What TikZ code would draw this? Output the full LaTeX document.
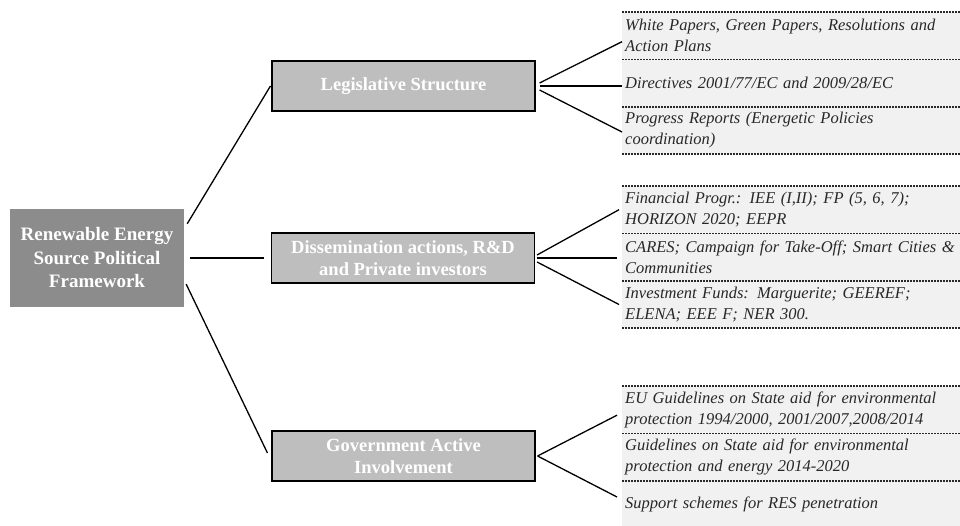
\documentclass[tikz,border=0pt]{standalone}
\usepackage{fontspec}
\setmainfont{Liberation Serif}
\definecolor{rootgray}{RGB}{140, 140, 140}
\definecolor{boxgray}{RGB}{190, 190, 190}
\definecolor{cellgray}{RGB}{241, 241, 241}
\definecolor{textgray}{RGB}{40, 40, 40}
\usetikzlibrary{positioning}
\tikzset{
	rootbox/.style={rectangle, fill=rootgray, align=center, minimum width=174pt, minimum height=98pt, text=white, font=\fontsize{19}{23.5}\selectfont\bfseries},
	branch/.style={rectangle, draw=black, fill=boxgray, line width=1.1pt, align=center, minimum width=263pt, minimum height=50pt, text=white, font=\fontsize{18.5}{22}\selectfont\bfseries},
	cell/.style={rectangle, fill=cellgray, align=left, text width=332pt, minimum height=47pt, inner xsep=3pt, inner ysep=0pt, text=textgray, font=\fontsize{16.5}{21}\selectfont\itshape},
	link/.style={line width=1.3pt, draw=black},
	sep/.style={line width=1.5pt, draw=textgray, dash pattern=on 1.5pt off 1.5pt},
}
\begin{document}
\begin{tikzpicture}[x=1pt, y=-1pt]
		\useasboundingbox (0,0) rectangle (960,526);
		\node[rootbox] (res) at (97,258) {Renewable Energy\\Source Political\\Framework};
		\node[branch] (leg) at (403.5,86) {Legislative Structure};
		\node[branch] (dis) at (403,258) {Dissemination actions, R\&D\\and Private investors};
		\node[branch] (gov) at (403.5,456) {Government Active\\Involvement};
		% right-hand lists
		\node[cell, anchor=north west] (leg1) at (622,12) {White Papers, Green Papers, Resolutions and\\Action Plans};
		\node[cell, below=0pt of leg1] (leg2) {Directives 2001/77/EC and 2009/28/EC};
		\node[cell, below=0pt of leg2] (leg3) {Progress Reports (Energetic Policies\\coordination)};
		\node[cell, anchor=north west] (dis1) at (622,186) {Financial Progr.: IEE (I,II); FP (5, 6, 7);\\HORIZON 2020; EEPR};
		\node[cell, below=0pt of dis1] (dis2) {CARES; Campaign for Take-Off; Smart Cities \&\\Communities};
		\node[cell, below=0pt of dis2] (dis3) {Investment Funds: Marguerite; GEEREF;\\ELENA; EEE F; NER 300.};
		\node[cell, anchor=north west] (gov1) at (622,386) {EU Guidelines on State aid for environmental\\protection 1994/2000, 2001/2007,2008/2014};
		\node[cell, below=0pt of gov1] (gov2) {Guidelines on State aid for environmental\\protection and energy 2014-2020};
		\node[cell, below=0pt of gov2] (gov3) {Support schemes for RES penetration};
		\foreach \c in {leg1,leg2,leg3,dis1,dis2,dis3,gov1,gov2,gov3}
			\draw[sep] (\c.north west) -- (\c.north east);
		\foreach \c in {leg3,dis3}
			\draw[sep] (\c.south west) -- (\c.south east);
		\draw[link] ([shift={(3,15)}]res.north east) -- ([xshift=-1pt]leg.west);
		\draw[link] ([xshift=6pt]res.east) -- ([xshift=-7pt]dis.west);
		\draw[link] ([shift={(2,-23)}]res.south east) -- ([shift={(-4,-3)}]gov.west);
		\draw[link] ([shift={(4,-3)}]leg.east) -- ([yshift=-6pt]leg1.west);
		\draw[link] ([xshift=4pt]leg.east) -- (leg.east -| leg2.west);
		\draw[link] ([shift={(4,4)}]leg.east) -- ([yshift=-1.5pt]leg3.west);
		\draw[link] ([shift={(2,-3)}]dis.east) -- ([xshift=-3pt]dis1.west);
		\draw[link] ([xshift=2pt]dis.east) -- ([xshift=-5pt]dis.east -| dis2.west);
		\draw[link] ([shift={(2,4)}]dis.east) -- ([xshift=-3pt]dis3.west);
		\draw[link] ([xshift=2pt]gov.east) -- ([shift={(-5,5.5)}]gov1.west);
		\draw[link] ([xshift=2pt]gov.east) -- ([shift={(-5,-7.5)}]gov3.west);
	\end{tikzpicture}
\end{document}
